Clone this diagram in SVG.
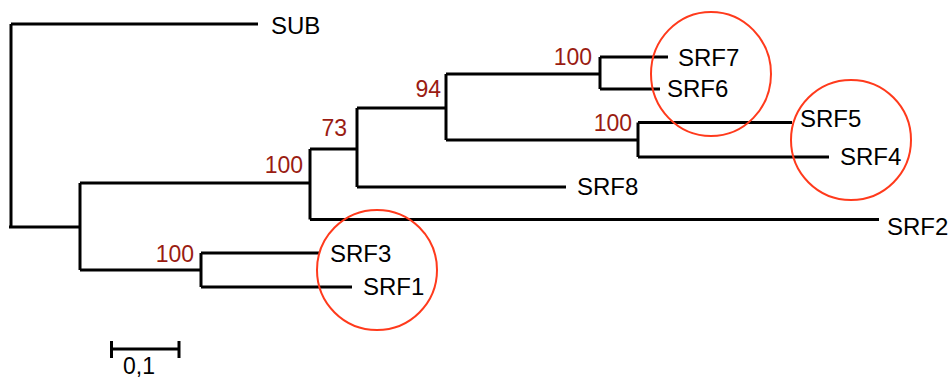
<svg xmlns="http://www.w3.org/2000/svg" width="950" height="381" viewBox="0 0 950 381">
<style>
.br{fill:none;stroke:#000;stroke-width:3;stroke-linecap:butt;stroke-linejoin:miter}
.lb{font-family:"Liberation Sans",Arial,sans-serif;font-size:24px;fill:#000}
.bs{font-family:"Liberation Sans",Arial,sans-serif;font-size:23px;fill:#9a1c12;text-anchor:end}
.cl{fill:none;stroke:#ff3a1c;stroke-width:2}
</style>
<rect width="950" height="381" fill="#fff"/>
<g id="connectors" class="br">
<path d="M11,24 V227"/>
<path d="M11,24 H258"/>
<path d="M9,227 H80"/>
<path d="M80,183 V270"/>
<path d="M80,183 H310"/>
<path d="M80,270 H201"/>
<path d="M201,253 V287"/>
<path d="M201,253 H320"/>
<path d="M201,287 H352"/>
<path d="M310,149 V219.5"/>
<path d="M310,149 H357"/>
<path d="M310,219.5 H879"/>
<path d="M357,108 V187"/>
<path d="M357,108 H446"/>
<path d="M357,187 H566"/>
<path d="M446,74 V140"/>
<path d="M446,74 H600"/>
<path d="M446,140 H638"/>
<path d="M600,57 V89"/>
<path d="M600,57 H668"/>
<path d="M600,89 H660"/>
<path d="M638,122.5 V157"/>
<path d="M638,122.5 H792"/>
<path d="M638,157 H829"/>
</g>
<g id="node-SUB"><text class="lb" x="271" y="33.5">SUB</text></g>
<g id="node-SRF7"><text class="lb" x="678" y="66">SRF7</text></g>
<g id="node-SRF6"><text class="lb" x="667" y="97">SRF6</text></g>
<g id="node-SRF5"><text class="lb" x="800" y="127">SRF5</text></g>
<g id="node-SRF4"><text class="lb" x="840" y="165">SRF4</text></g>
<g id="node-SRF8"><text class="lb" x="577" y="195">SRF8</text></g>
<g id="node-SRF2"><text class="lb" x="887" y="235">SRF2</text></g>
<g id="node-SRF3"><text class="lb" x="330" y="262">SRF3</text></g>
<g id="node-SRF1"><text class="lb" x="363" y="295">SRF1</text></g>
<g id="node-A"><text class="bs" x="303" y="173">100</text></g>
<g id="node-B"><text class="bs" x="347" y="136">73</text></g>
<g id="node-D"><text class="bs" x="441" y="97">94</text></g>
<g id="node-F"><text class="bs" x="592" y="65">100</text></g>
<g id="node-G"><text class="bs" x="632" y="131">100</text></g>
<g id="node-C"><text class="bs" x="194" y="262">100</text></g>
<g id="highlights">
<ellipse class="cl" cx="711" cy="74" rx="60" ry="62"/>
<circle class="cl" cx="851" cy="140" r="60"/>
<circle class="cl" cx="377" cy="270" r="60"/>
</g>
<g id="scale" class="br">
<path d="M111.5,349 H179"/>
<path d="M111.5,341 V358"/>
<path d="M179,341 V358"/>
</g>
<g id="scale-label"><text class="lb" x="123" y="374" style="font-size:23px">0,1</text></g>
</svg>
